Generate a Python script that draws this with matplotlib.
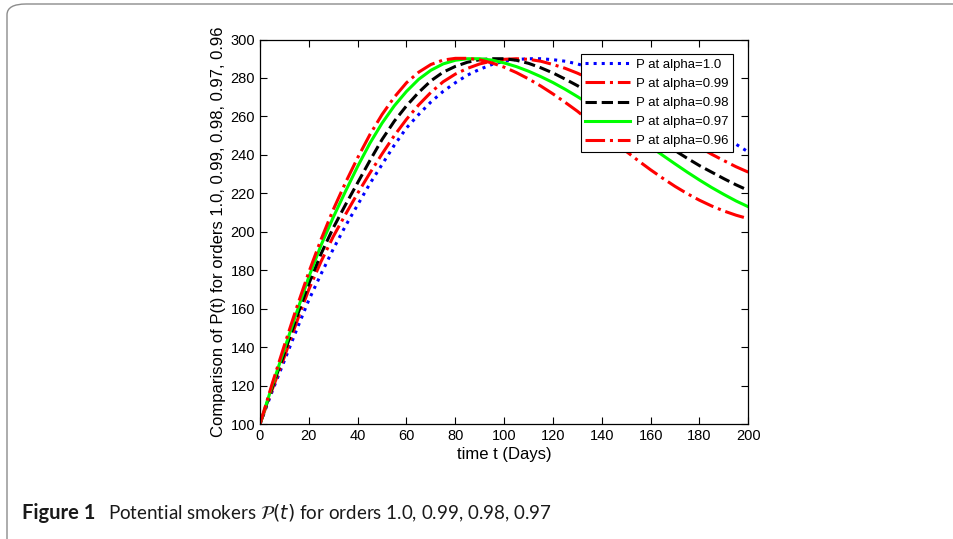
import numpy as np
import matplotlib.pyplot as plt
from matplotlib.patches import FancyBboxPatch

# values, every 5 days
t = list(range(0, 201, 5))
p_100 = [100, 117, 133, 149, 164.5, 178, 191, 203, 214, 225, 235, 245, 254, 261, 267.5, 273,
         277.5, 281.5, 284.5, 287, 288.7, 289.6, 290, 290, 289.5, 288.7, 287.3, 285.5, 283, 280.2,
         277, 273.8, 270.5, 267.2, 263.8, 260.3, 256.7, 253, 249.3, 245.5, 241.5]
p_099 = [100, 118, 135, 153, 170, 184.5, 197.5, 209, 220, 230.5, 240.5, 250, 258.5, 266, 272.5, 278,
         282, 285, 287.3, 288.8, 289.7, 290, 289.7, 288.7, 287, 285, 282.5, 279.6, 276.4, 272.8,
         269, 265, 260.8, 256.5, 252.2, 248, 244, 240.3, 237, 233.8, 231]
p_098 = [100, 119, 137, 155.5, 173, 188.5, 202, 214, 225.5, 237, 248, 257.5, 265.5, 272.5, 278.5, 283,
         286, 288.2, 289.5, 290, 290, 289.2, 287.6, 285.3, 282.6, 279.4, 276, 272.2, 268.2, 264,
         259.6, 255.2, 250.8, 246.4, 242.2, 238.2, 234.4, 231, 227.6, 224.4, 221.5]
p_097 = [100, 120, 139, 158, 176.5, 193, 207.5, 221, 234, 246, 256.5, 265.5, 273, 279.3, 284, 287.3,
         289.2, 290, 290, 289.3, 287.8, 285.9, 283.5, 280.7, 277.6, 274.1, 270.3, 266.3, 262.1, 257.7,
         253.2, 248.7, 244.2, 239.7, 235.3, 231, 226.9, 223, 219.4, 216, 213]
p_096 = [100, 121, 141, 160.5, 179, 196, 211.5, 225.5, 238.5, 250.5, 261, 270, 277.5, 283, 287, 289.3,
         290.2, 290.2, 289.4, 287.8, 285.6, 282.8, 279.5, 275.8, 271.7, 267.3, 262.7, 257.5, 252,
         246.8, 241.8, 236.9, 232.2, 227.8, 223.6, 219.8, 216.4, 213.4, 210.8, 208.6, 206.8]

labels = ['P at alpha=1.0', 'P at alpha=0.99', 'P at alpha=0.98', 'P at alpha=0.97', 'P at alpha=0.96']
series = [p_100, p_099, p_098, p_097, p_096]
colors = ['#0000ff', '#ff0000', '#000000', '#00ff00', '#ff0000']
styles = [':', '-.', '--', '-', '-.']

plt.rcParams['font.family'] = ['Liberation Sans', 'DejaVu Sans']

fig = plt.figure(figsize=(9.54, 5.39), dpi=100)
ax = fig.add_axes([260 / 954, 1 - 424 / 539, 488.3 / 954, 384.5 / 539])

for y, lab, c, ls in zip(series, labels, colors, styles):
    ax.plot(t, y, ls, color=c, lw=2.2, label=lab)

ax.set_xlim(0, 200)
ax.set_ylim(100, 300)
ax.set_xticks(np.arange(0, 201, 20))
ax.set_yticks(np.arange(100, 301, 20))
ax.tick_params(direction='in', top=True, right=True, length=5, width=0.8, labelsize=10.5)
for s in ax.spines.values():
    s.set_linewidth(0.9)

ax.set_xlabel('time t (Days)', fontsize=12, labelpad=3)
ax.set_ylabel('Comparison of P(t) for orders 1.0, 0.99, 0.98, 0.97, 0.96', fontsize=12, labelpad=3)

leg = ax.legend(loc='upper left', bbox_to_anchor=(0.657, 0.962), borderaxespad=0,
                fancybox=False, framealpha=1, edgecolor='black', fontsize=9.5,
                handlelength=3.4, labelspacing=0.52, handletextpad=0.4, borderpad=0.35)
leg.get_frame().set_linewidth(0.8)

# card outline round the figure
card = FancyBboxPatch((7 / 954, -0.02), 1.1, 1 - 4 / 539 + 0.02,
                      boxstyle='round,pad=0,rounding_size=0.02',
                      transform=fig.transFigure, fill=False,
                      edgecolor='#8c8c8c', lw=1.0, clip_on=False)
fig.patches.append(card)

cap_font = ['Lato', 'DejaVu Sans']
fig.text(22 / 954, 1 - 513 / 539, 'Figure 1', fontsize=14.5, fontweight='bold',
         family=cap_font, va='center', color='#1a1a1a')
fig.text(108 / 954, 1 - 513 / 539, r'Potential smokers $\mathcal{P}(t)$ for orders 1.0, 0.99, 0.98, 0.97',
         fontsize=13.5, family=cap_font, va='center', color='#1a1a1a')

fig.savefig('out.png', dpi=100)
